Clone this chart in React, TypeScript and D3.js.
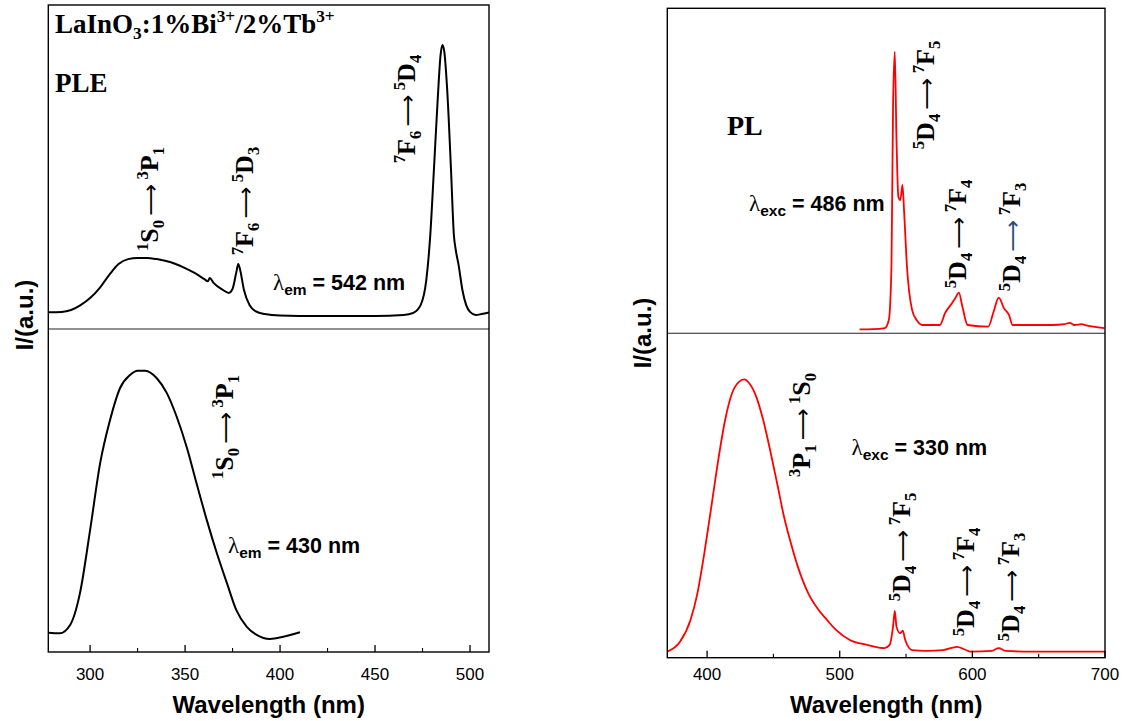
import React from "react";
import * as d3 from "d3";

// ---------- data (wavelength nm, normalised intensity) ----------
const pleTb: [number, number][] = [
  [278, 0.014], [285, 0.015], [290, 0.022], [295, 0.04], [300, 0.066], [305, 0.103],
  [310, 0.151], [315, 0.192], [320, 0.21], [325, 0.214], [330, 0.214], [335, 0.21],
  [340, 0.203], [345, 0.192], [350, 0.177], [355, 0.159], [360, 0.137], [362, 0.128],
  [363, 0.14], [365, 0.122], [370, 0.096], [373, 0.085], [375, 0.1], [377, 0.162],
  [378, 0.192], [379, 0.17], [381, 0.096], [384, 0.04], [387, 0.018], [392, 0.007],
  [400, 0.002], [420, 0], [450, 0], [465, 0.004], [470, 0.011], [474, 0.04],
  [477, 0.133], [479, 0.29], [481, 0.54], [483, 0.8], [484.5, 0.963], [485.5, 1.0],
  [486.5, 0.974], [488, 0.834], [490, 0.54], [491.5, 0.3], [492.5, 0.244], [494, 0.188],
  [496, 0.096], [498, 0.04], [500, 0.015], [503, 0.004], [506, 0.007], [510, 0.013],
];

const pleBi: [number, number][] = [
  [278, 0.027], [284, 0.025], [289.5, 0.056], [294.7, 0.175], [300, 0.408], [305.3, 0.657],
  [310.5, 0.817], [315.8, 0.936], [321, 0.984], [325, 1.0], [329, 1.0], [335, 0.973],
  [340.4, 0.917], [345.6, 0.829], [351, 0.713], [356, 0.583], [361.4, 0.446], [366.7, 0.323],
  [372, 0.212], [377, 0.111], [382.5, 0.049], [387.7, 0.019], [394.7, 0.004], [401.7, 0.012],
  [410.5, 0.029],
];

const plTb: [number, number][] = [
  [515, -0.005], [525, -0.004], [534, 0], [537, 0.029], [539, 0.222], [540.2, 0.8],
  [541.5, 1.0], [542.8, 0.68], [544.2, 0.475], [545.7, 0.463], [547.3, 0.518], [548.6, 0.416],
  [550.7, 0.222], [554.6, 0.065], [558, 0.029], [562.4, 0.011], [575.5, 0.011], [579.4, 0.054],
  [584.6, 0.09], [587.2, 0.109], [589.8, 0.128], [592.5, 0.077], [596.4, 0.011], [612, 0.005],
  [616, 0.059], [619.9, 0.11], [623.8, 0.072], [627.7, 0.047], [630.3, 0.011], [643, 0.011],
  [660, 0.011], [669.5, 0.014], [673.4, 0.019], [677, 0.011], [682.5, 0.014], [685, 0.011],
  [699.5, 0.0],
];

const plBi: [number, number][] = [
  [370, 0.001], [379.7, 0.038], [387.5, 0.117], [392.7, 0.215], [397.9, 0.362], [403.2, 0.533],
  [408.4, 0.704], [413.6, 0.851], [418.8, 0.949], [424, 0.991], [428, 1.0], [431.9, 0.985],
  [437.1, 0.936], [442.3, 0.851], [447.5, 0.741], [452.8, 0.619], [458, 0.496], [463.2, 0.399],
  [468.4, 0.313], [476.3, 0.215], [484.1, 0.154], [489.3, 0.124], [497.2, 0.081], [507.6, 0.044],
  [520.7, 0.026], [533.7, 0.014], [537.6, 0.026], [540.2, 0.093], [541.5, 0.151], [542.8, 0.093],
  [545.5, 0.069], [547.5, 0.078], [549.4, 0.044], [554.6, 0.007], [565, 0.004], [578, 0.007],
  [588.5, 0.019], [593.8, 0.01], [599, 0.001], [614.6, 0.004], [619.9, 0.014], [625, 0.004],
  [643, 0.001], [700, 0.001],
];

const leftMajor = [300, 350, 400, 450, 500];
const leftMinor = [325, 375, 425, 475];
const rightMajor = [400, 500, 600, 700];
const rightMinor = [450, 550, 650];

// ---------- layout ----------
const L = { x0: 48.3, x1: 489, y0: 5, ym: 329, y1: 652 };
const R = { x0: 667.3, x1: 1105, y0: 8.3, ym: 333.3, y1: 657.7 };

const xL = d3.scaleLinear().domain([278, 510]).range([L.x0, L.x1]);
const xR = d3.scaleLinear().domain([370, 700]).range([R.x0, R.x1]);
const yLT = d3.scaleLinear().domain([-0.048, 1.148]).range([L.ym, L.y0]);
const yLB = d3.scaleLinear().domain([-0.0446, 1.155]).range([L.y1, L.ym]);
const yRT = d3.scaleLinear().domain([-0.019, 1.157]).range([R.ym, R.y0]);
const yRB = d3.scaleLinear().domain([-0.021, 1.169]).range([R.y1, R.ym]);

const mk = (x: any, y: any) =>
  d3.line<[number, number]>().x((d) => x(d[0])).y((d) => y(d[1])).curve(d3.curveMonotoneX);

const SERIF = "'Liberation Serif', 'Times New Roman', serif";
const SANS = "Arial, 'Liberation Sans', sans-serif";

type Seg = [string, "n" | "u" | "d"];

function Rich({ x, y, fs, segs, rot = false, anchor = "start", family = SERIF, fill = "#000", weight = "bold" }: any) {
  let shift = 0;
  const spans = (segs as Seg[]).map(([t, k], i) => {
    const target = k === "u" ? -0.4 * fs : k === "d" ? 0.22 * fs : 0;
    const dy = target - shift;
    shift = target;
    const f = Array.isArray(fill) ? fill[i] : fill;
    return (
      <tspan key={i} dy={dy} fontSize={k === "n" ? fs : fs * 0.64} fill={f}>
        {t}
      </tspan>
    );
  });
  return (
    <text
      x={rot ? 0 : x}
      y={rot ? 0 : y}
      transform={rot ? `translate(${x},${y}) rotate(-90)` : undefined}
      fontFamily={family}
      fontWeight={weight}
      fontSize={fs}
      textAnchor={anchor}
      fill="#000"
    >
      {spans}
    </text>
  );
}

function Trans({ x, y, a, b, bi, c, d, di, arrowFill = "#000" }: any) {
  const fs = 26;
  // label text: superscript / main / subscript, long arrow drawn as a glyph
  let shift = 0;
  const segs: Seg[] = [[a, "u"], [b, "n"], [bi, "d"]];
  const segs2: Seg[] = [[c, "u"], [d, "n"], [di, "d"]];
  const mkSpans = (ss: Seg[], key: string) =>
    ss.map(([t, k], i) => {
      const target = k === "u" ? -0.4 * fs : k === "d" ? 0.22 * fs : 0;
      const dy = target - shift;
      shift = target;
      return (
        <tspan key={key + i} dy={dy} fontSize={k === "n" ? fs : fs * 0.64}>
          {t}
        </tspan>
      );
    });
  const first = mkSpans(segs, "a");
  const arrowDy = 0 - shift;
  shift = 0;
  const second = mkSpans(segs2, "b");
  return (
    <text
      transform={`translate(${x},${y}) rotate(-90)`}
      fontFamily={SERIF}
      fontWeight="bold"
      fontSize={fs}
      textAnchor="middle"
    >
      {first}
      <tspan dy={arrowDy} fontFamily="'DejaVu Sans', sans-serif" fontWeight="normal" fontSize={fs * 0.85} fill={arrowFill}>
        {"\u2009\u27F6\u2009"}
      </tspan>
      {second}
    </text>
  );
}

function Lam({ x, y, sub, rest }: any) {
  return (
    <text x={x} y={y} fontSize={21.5} fontWeight="bold" fontFamily={SANS}>
      <tspan fontFamily={SERIF} fontWeight="normal" fontSize={23}>λ</tspan>
      <tspan dy={5} fontSize={15.5}>{sub}</tspan>
      <tspan dy={-5}>{rest}</tspan>
    </text>
  );
}

function Axis({ x, x0, x1, y0, ym, y1, major, minor }: any) {
  return (
    <g>
      {major.map((t: number) => (
        <line key={"M" + t} x1={x(t)} x2={x(t)} y1={y1} y2={y1 - 7} stroke="#000" strokeWidth={1.3} />
      ))}
      {minor.map((t: number) => (
        <line key={"m" + t} x1={x(t)} x2={x(t)} y1={y1} y2={y1 - 4} stroke="#000" strokeWidth={1.1} />
      ))}
      {major.map((t: number) => (
        <text key={"t" + t} x={x(t)} y={680} fontSize={17} fontFamily={SANS} textAnchor="middle">
          {t}
        </text>
      ))}
      <line x1={x0} x2={x1} y1={ym} y2={ym} stroke="#222" strokeWidth={1.1} />
      <rect x={x0} y={y0} width={x1 - x0} height={y1 - y0} fill="none" stroke="#000" strokeWidth={1.4} />
      <text x={(x0 + x1) / 2} y={713} fontSize={24} fontWeight="bold" fontFamily={SANS} textAnchor="middle">
        Wavelength (nm)
      </text>
    </g>
  );
}

export default function App() {
  return (
    <svg width={1123} height={721} style={{ position: "absolute", left: 0, top: 0, background: "#fff" }}>
      <rect width={1123} height={721} fill="#fff" />
      {/* Left panel */}
      <path d={mk(xL, yLT)(pleTb) || ""} fill="none" stroke="#000" strokeWidth={2} />
      <path d={mk(xL, yLB)(pleBi) || ""} fill="none" stroke="#000" strokeWidth={2} />
      <Axis x={xL} {...L} major={leftMajor} minor={leftMinor} />
      <text transform="translate(33,315) rotate(-90)" fontSize={24} fontWeight="bold" fontFamily={SANS} textAnchor="middle">
        I/(a.u.)
      </text>
      <Rich x={55} y={33} fs={27} segs={[["LaInO", "n"], ["3", "d"], [":1%Bi", "n"], ["3+", "u"], ["/2%Tb", "n"], ["3+", "u"]]} />
      <Rich x={55} y={92} fs={27} segs={[["PLE", "n"]]} />
      <Trans x={158} y={199} a="1" b="S" bi="0" c="3" d="P" di="1" />
      <Trans x={253} y={201} a="7" b="F" bi="6" c="5" d="D" di="3" />
      <Trans x={415} y={109} a="7" b="F" bi="6" c="5" d="D" di="4" />
      <Lam x={273} y={290} sub="em" rest=" = 542 nm" />
      <Trans x={233} y={427} a="1" b="S" bi="0" c="3" d="P" di="1" />
      <Lam x={228} y={553} sub="em" rest=" = 430 nm" />

      {/* Right panel */}
      <path d={mk(xR, yRT)(plTb) || ""} fill="none" stroke="#ff0000" strokeWidth={1.8} />
      <path d={mk(xR, yRB)(plBi) || ""} fill="none" stroke="#ff0000" strokeWidth={1.8} />
      <Axis x={xR} {...R} major={rightMajor} minor={rightMinor} />
      <text transform="translate(651,333) rotate(-90)" fontSize={24} fontWeight="bold" fontFamily={SANS} textAnchor="middle">
        I/(a.u.)
      </text>
      <Rich x={727} y={135} fs={28} segs={[["PL", "n"]]} />
      <Lam x={749} y={211} sub="exc" rest=" = 486 nm" />
      <Trans x={934} y={95} a="5" b="D" bi="4" c="7" d="F" di="5" />
      <Trans x={966} y={234} a="5" b="D" bi="4" c="7" d="F" di="4" />
      <Trans x={1020} y={237} a="5" b="D" bi="4" c="7" d="F" di="3" arrowFill="#2b4a7a" />
      <Trans x={810} y={425} a="3" b="P" bi="1" c="1" d="S" di="0" />
      <Lam x={851.5} y={455} sub="exc" rest=" = 330 nm" />
      <Trans x={910} y={547} a="5" b="D" bi="4" c="7" d="F" di="5" />
      <Trans x={974} y={582} a="5" b="D" bi="4" c="7" d="F" di="4" />
      <Trans x={1019} y={587} a="5" b="D" bi="4" c="7" d="F" di="3" />
    </svg>
  );
}
